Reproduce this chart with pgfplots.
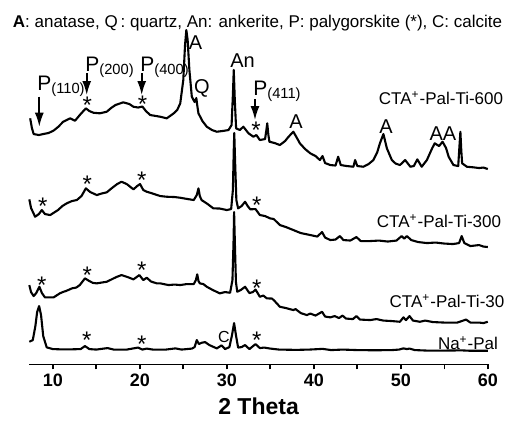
\documentclass[border=0pt]{standalone}
\usepackage{pgfplots}
\pgfplotsset{compat=1.18}
\usepackage{fontspec}
\setmainfont{Liberation Sans}
\usetikzlibrary{arrows.meta}

% star marker centred on (x,y)
\newcommand{\st}[2]{\node[font=\fontsize{12}{12}\selectfont, anchor=base, inner sep=0pt, yshift=-6.9pt] at (axis cs:#1,#2) {*};}
\newcommand{\pk}[3]{\node[font=\fontsize{10}{10}\selectfont, anchor=base, inner sep=0pt] at (axis cs:#1,#2) {#3};}
\newcommand{\arr}[3]{\draw[-{Latex[length=7pt,width=4.5pt]}, line width=0.9pt] (axis cs:#1,#2) -- (axis cs:#1,#3);}

\begin{document}
\begin{tikzpicture}
\begin{axis}[
  scale only axis, width=229.2pt, height=172.5pt,
  xmin=7.3, xmax=60, ymin=0, ymax=345,
  hide y axis,
  axis x line=bottom, x axis line style={-, line width=0.8pt},
  xtick={10,20,...,60}, minor xtick={15,25,...,55},
  xtick align=outside, major tick length=2.5pt, minor tick length=2.5pt,
  tick style={line width=0.8pt, black},
  xticklabel style={font=\bfseries\fontsize{9}{9}\selectfont, yshift=1.5pt},
  /pgf/number format/assume math mode=true,
  xlabel={2 Theta}, xlabel style={font=\bfseries\fontsize{11.5}{11.5}\selectfont, yshift=1pt},
  clip=false,
  tr/.style={black, line width=1.05pt, line join=round, mark=none},
]
% Na+-Pal
\addplot[tr] coordinates {
(7.3,22.6) (7.7,24.3) (8.0,38.3) (8.2,52.3) (8.43,58.3) (8.65,49.3) (8.9,28.3) (9.3,17) (10,15.3)
(11,15) (12,15) (13.2,15.3) (13.7,18.3) (14.2,15.3) (15,14.8) (16.3,16.3) (17,14.8) (18.5,14.8)
(19.8,16.8) (20.3,14.8) (20.8,15.8) (21.5,14.8) (23,14.8) (24.1,16) (24.8,14.8) (26,15.8) (26.3,17.3)
(26.55,24.3) (26.8,20.3) (27.1,21.6) (27.5,22.3) (28,19.3) (28.85,16) (29.4,19) (29.8,15.3) (30.3,17.3)
(30.6,29.3) (30.84,41.3) (31.05,29.3) (31.3,16.8) (31.7,17.3) (32.1,19.3) (32.6,15.3) (33.3,20.3)
(33.8,16.3) (34.3,16.8) (35,15.8) (36,14.8) (38,14.5) (39.5,14.8) (41,15.5) (42,14.3) (43.3,14.8)
(45,14.3) (47,14.1) (49,14.3) (49.8,14.8) (50.3,16) (50.7,15.3) (51,15.8) (51.6,14.3) (53,13.8)
(55,13.8) (57,14) (58,13.6) (60,13.6)
};
% CTA+-Pal-Ti-30
\addplot[tr] coordinates {
(7.3,79.3) (7.5,72.3) (7.8,68.3) (8.1,71.3) (8.46,77.6) (8.75,71.3) (9.1,67) (10.1,67) (10.8,71)
(11.2,72.5) (11.5,73.3) (11.9,74.8) (12.2,76) (12.7,76.8) (13.1,79.3) (13.7,86) (14.2,83.3) (14.6,81.5) (15.06,81) (15.6,81.8) (16.2,82.6)
(16.6,84.3) (17.3,87.3) (17.9,89.3) (18.6,87.3) (19.27,85) (19.95,89.3) (20.4,84.3) (20.8,86.6)
(21.3,82.8) (21.95,81) (22.35,81) (22.8,80.2) (23.3,79.3) (24,79.8) (24.65,79.3) (25.4,80.3) (26.2,80.3)
(26.45,84.3) (26.6,90) (26.75,83.3) (26.9,81) (27.3,80.3) (27.7,77.6) (28.4,74.3) (29.2,71) (29.8,72.3)
(30.38,71.6) (30.65,84.3) (30.78,124.3) (30.84,152.3) (30.92,124.3) (31.05,82.3) (31.2,72.6)
(31.6,74.3) (32.1,77.6) (32.6,71.3) (33.0,72.3) (33.3,74.8) (33.8,67.6) (34.2,68.8) (34.6,66)
(35.2,65.8) (35.5,63.3) (36.1,57.6) (36.8,56.3) (37.65,54.3) (37.9,55.3) (38.5,51.3) (39.2,49.3)
(39.6,50.8) (40.2,48.8) (40.95,52.6) (41.3,47.8) (41.9,47) (42.4,48.3) (42.9,46.3) (43.3,48.8)
(43.7,45.8) (44.5,45.3) (44.9,48.3) (45.3,44.8) (46.5,44.3) (47.2,45.3) (48,43.8) (49,43.3) (49.9,42.6)
(50.3,47) (50.6,44.3) (51,48.3) (51.4,43.8) (52.2,42.6) (52.8,43.8) (53.7,42.3) (55,41.8) (56.5,41.8)
(57.5,44.8) (58,41.8) (59,41.8) (59.5,41.3) (60,42.6)
};
% CTA+-Pal-Ti-300
\addplot[tr] coordinates {
(7.3,165) (7.5,156.3) (7.97,147.6) (8.4,150.3) (8.74,154.3) (9.1,150.3) (9.7,149.3) (10.6,154.3)
(11.1,158.3) (11.6,161) (12.2,163.3) (12.76,164.3) (13.3,168.3) (13.8,176) (14.3,172.3) (15.06,169.3)
(15.6,170.8) (16.2,172) (16.8,176.3) (17.4,180.3) (17.9,182.6) (18.5,180.3) (19.27,175) (19.7,178.3)
(20.03,180.3) (20.4,174.3) (20.8,172.6) (21.3,171.3) (22.35,168.3) (23.1,167.6) (24.0,167.3)
(24.65,166.6) (25.5,165.3) (26.2,164.3) (26.55,169.3) (26.74,176) (26.9,168.3) (27.1,164.3)
(27.8,160.3) (28.45,156) (29.2,155.8) (30,154.3) (30.5,155.3) (30.7,174.3) (30.8,214.3) (30.86,231.3)
(30.95,204.3) (31.1,164.3) (31.3,156) (31.7,158.3) (32.1,162.6) (32.4,158.3) (32.7,155) (33.3,155.3)
(33.8,149.3) (34.4,148.3) (34.97,146) (35.4,145.3) (36.1,139.3) (36.8,137.3) (37.65,134.3)
(38.5,131.3) (39.6,129.3) (40.4,127.8) (40.95,132.3) (41.3,126.8) (41.9,124.3) (42.5,124.8)
(43.0,128.3) (43.4,124.3) (44.2,123.8) (44.9,127.3) (45.4,123.3) (46.5,123.3) (47.5,123.8)
(48.5,122.8) (49.5,123.8) (50.1,128.3) (50.4,125.8) (50.7,128.3) (51.2,124.3) (52,122.3) (53,121.3)
(54,121.8) (55,120.8) (56,120.3) (56.7,121.3) (57.0,128.3) (57.3,121.3) (58,118.3) (59,119.3)
(59.5,117.8) (60,117.3)
};
% CTA+-Pal-Ti-600
\addplot[tr] coordinates {
(7.4,246) (7.6,236.3) (7.8,230.3) (8.4,229.3) (8.9,230.3) (9.5,231.3) (10.07,233.6) (10.6,237.3)
(11.2,242.6) (11.6,244.3) (12.0,246) (12.56,243.6) (13.1,249.3) (13.8,256) (14.2,253.3) (14.67,251.6)
(15.4,251) (16.2,252.6) (16.7,256.3) (17.2,259.3) (18.1,262) (18.8,260.3) (19.27,257.6) (19.8,256.8)
(20.3,257.8) (20.7,253.3) (21.2,249.3) (22.35,247.6) (23.1,246) (23.9,251) (24.3,254.3) (24.65,261)
(25.0,284.3) (25.2,319.3) (25.35,334.3) (25.5,324.3) (25.7,294.3) (25.98,267.6) (26.3,262.3)
(26.5,266.3) (26.6,259.3) (26.74,251) (27.2,243.3) (27.7,237.6) (28.3,234.3) (28.85,232.6)
(29.5,233.3) (30.2,234.3) (30.55,239.3) (30.7,269.3) (30.8,294.3) (30.92,264.3) (31.07,236)
(31.5,234.3) (31.9,237.6) (32.5,231) (33.06,227.6) (33.4,229.3) (33.8,224.3) (34.4,225.3)
(34.55,234.3) (34.65,241) (34.78,229.3) (34.9,222.6) (35.5,221.3) (36.1,219.3) (36.7,223.3)
(37.1,227.6) (37.65,232.6) (38.0,227.3) (38.4,221) (39.0,215.3) (39.6,211) (40.2,208.3) (40.7,204.3)
(41.0,208.3) (41.3,201.3) (41.9,199.3) (42.5,198.8) (42.8,207.6) (43.1,199.3) (43.8,198.3)
(44.55,197.6) (44.75,204.3) (45.0,198.3) (45.7,197.6) (46.3,200.3) (46.85,204.3) (47.3,212.3)
(47.6,221) (48.0,230.3) (48.4,216) (48.97,204.3) (49.4,200.8) (49.9,199.3) (50.5,204.3) (51.1,197.6)
(51.5,198.3) (51.9,205) (52.4,197.6) (53.0,204.3) (53.6,216) (53.9,221) (54.4,218.3) (54.8,222.6)
(55.2,216.3) (55.5,207.6) (56.05,199.3) (56.6,198.3) (56.75,219.3) (56.85,232.6) (56.95,214.3)
(57.05,201) (57.6,197.6) (58.35,197) (59.0,196.3) (59.5,196.8) (60,195.3)
};
% bounding box of the whole figure
\path (axis cs:3.932,364.3) rectangle (axis cs:62.438,-52.7);
% title
\node[font=\fontsize{8.5}{8.5}\selectfont, anchor=base, inner sep=0pt] at (axis cs:33.53,337.3)
  {\textbf{A}: anatase, Q\,: quartz, An: ankerite, P: palygorskite (*), C: calcite};
% P labels and arrows
\node[font=\fontsize{10.5}{10.5}\selectfont, anchor=base west, inner sep=0pt] at (axis cs:8.185,274.3) {P\textsubscript{(110)}};
\node[font=\fontsize{10.5}{10.5}\selectfont, anchor=base west, inner sep=0pt] at (axis cs:13.70,293.3) {P\textsubscript{(200)}};
\node[font=\fontsize{10.5}{10.5}\selectfont, anchor=base west, inner sep=0pt] at (axis cs:20.02,293.3) {P\textsubscript{(400)}};
\node[font=\fontsize{10.5}{10.5}\selectfont, anchor=base west, inner sep=0pt] at (axis cs:33.01,269.3) {P\textsubscript{(411)}};
\arr{8.45}{267.6}{237.6}
\arr{13.90}{291.3}{269.3}
\arr{20.22}{291.3}{269.3}
\arr{33.24}{265.3}{244.3}
% peak labels
\pk{26.40}{315.3}{A}
\pk{27.15}{271.3}{Q}
\pk{31.81}{297.3}{An}
\pk{37.96}{236.3}{A}
\pk{48.30}{231.3}{A}
\pk{54.85}{224.3}{AA}
\node[font=\fontsize{8}{8}\selectfont, anchor=base, inner sep=0pt] at (axis cs:29.66,22.3) {C};
% sample names
\node[font=\fontsize{8.5}{8.5}\selectfont, anchor=base, inner sep=0pt] at (axis cs:54.62,260.3) {CTA\textsuperscript{+}-Pal-Ti-600};
\node[font=\fontsize{8.5}{8.5}\selectfont, anchor=base, inner sep=0pt] at (axis cs:54.39,137.3) {CTA\textsuperscript{+}-Pal-Ti-300};
\node[font=\fontsize{8.5}{8.5}\selectfont, anchor=base, inner sep=0pt] at (axis cs:55.31,57.3) {CTA\textsuperscript{+}-Pal-Ti-30};
\node[font=\fontsize{8.5}{8.5}\selectfont, anchor=base, inner sep=0pt] at (axis cs:57.72,15.3) {Na\textsuperscript{+}-Pal};
% stars
\st{13.97}{265} \st{20.33}{266} \st{33.36}{239.3}
\st{8.84}{163.6} \st{13.97}{186} \st{20.22}{189.3} \st{33.44}{164.3}
\st{8.73}{85} \st{13.97}{95} \st{20.22}{99.3} \st{33.44}{81.6}
\st{13.90}{29.3} \st{20.22}{25.3} \st{33.44}{29.3}
\end{axis}
\end{tikzpicture}
\end{document}
